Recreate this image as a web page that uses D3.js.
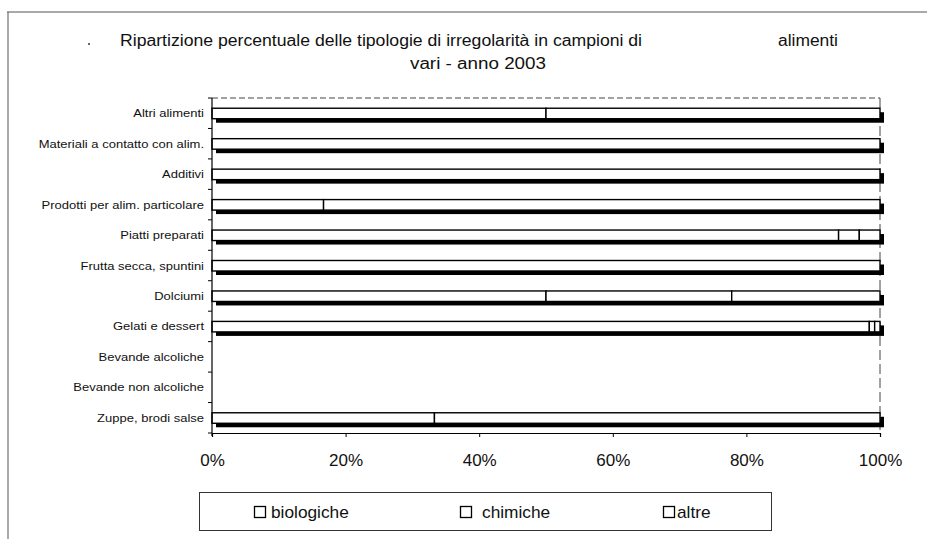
<!DOCTYPE html>
<html>
<head>
<meta charset="utf-8">
<script src="https://cdn.jsdelivr.net/npm/d3@7"></script>
<style>
  html, body { margin: 0; padding: 0; background: #fff; }
  svg { display: block; }
  text { font-family: "Liberation Sans", Arial, sans-serif; fill: #111; }
</style>
</head>
<body>
<svg id="chart" width="927" height="539"></svg>
<script>
const categories = [
  "Altri alimenti",
  "Materiali a contatto con alim.",
  "Additivi",
  "Prodotti per alim. particolare",
  "Piatti preparati",
  "Frutta secca, spuntini",
  "Dolciumi",
  "Gelati e dessert",
  "Bevande alcoliche",
  "Bevande non alcoliche",
  "Zuppe, brodi salse"
];
const biologiche = [50, 0, 0, 16.7, 93.8, 0, 50, 98.4, 0, 0, 33.3];
const chimiche   = [50, 100, 100, 83.3, 3.1, 100, 27.8, 0.8, 0, 0, 66.7];
const altre      = [0, 0, 0, 0, 3.1, 0, 22.2, 0.8, 0, 0, 0];
const seriesNames = ["biologiche", "chimiche", "altre"];
const xTicks = [0, 20, 40, 60, 80, 100];
const titleLine1a = "Ripartizione percentuale delle tipologie di irregolarità in campioni di";
const titleLine1b = "alimenti";
const titleLine2 = "vari - anno 2003";

(function () {
const svg = d3.select("#chart");
const pL = 212, pR = 880, pT = 98, pB = 433;

// outer frame (scanned page border)
svg.append("line").attr("x1", 7).attr("x2", 927).attr("y1", 12).attr("y2", 12)
  .attr("stroke", "#555").attr("stroke-width", 1);
svg.append("line").attr("x1", 8).attr("x2", 8).attr("y1", 12).attr("y2", 539)
  .attr("stroke", "#555").attr("stroke-width", 1);
svg.append("circle").attr("cx", 89).attr("cy", 44).attr("r", 1).attr("fill", "#333");

// title
svg.append("text").attr("x", 120).attr("y", 46).attr("font-size", 16)
  .attr("textLength", 522).attr("lengthAdjust", "spacingAndGlyphs").text(titleLine1a);
svg.append("text").attr("x", 778).attr("y", 46).attr("font-size", 16)
  .attr("textLength", 60).attr("lengthAdjust", "spacingAndGlyphs").text(titleLine1b);
svg.append("text").attr("x", 410).attr("y", 69).attr("font-size", 16)
  .attr("textLength", 136).attr("lengthAdjust", "spacingAndGlyphs").text(titleLine2);

const x = d3.scaleLinear().domain([0, 100]).range([pL, pR]);
const y = d3.scaleBand().domain(categories).range([pT, pB]).padding(0);

// plot top and right borders (faint dashed)
svg.append("line").attr("x1", pL).attr("x2", pR).attr("y1", pT).attr("y2", pT)
  .attr("stroke", "#444").attr("stroke-width", 1).attr("stroke-dasharray", "6,3");
svg.append("line").attr("x1", pR).attr("x2", pR).attr("y1", pT).attr("y2", pB)
  .attr("stroke", "#444").attr("stroke-width", 1).attr("stroke-dasharray", "10,4");

// data table
const rows = categories.map((c, i) => ({
  cat: c, biologiche: biologiche[i], chimiche: chimiche[i], altre: altre[i]
}));
const stacked = d3.stack().keys(seriesNames)(rows);

const barH = 10.5;
const sdx = 4, sdy = 4;

const g = svg.append("g");
// shadows
rows.forEach(r => {
  const total = r.biologiche + r.chimiche + r.altre;
  if (total <= 0) return;
  const cy = y(r.cat) + y.bandwidth() / 2;
  g.append("rect")
    .attr("x", x(0) + sdx).attr("y", cy - 5 + sdy)
    .attr("width", x(total) - x(0)).attr("height", barH)
    .attr("fill", "#000");
});

// bar segments
stacked.forEach(s => {
  g.selectAll(null).data(s.filter(d => d[1] - d[0] > 0)).enter().append("rect")
    .attr("x", d => x(d[0]))
    .attr("y", d => y(d.data.cat) + y.bandwidth() / 2 - 5)
    .attr("width", d => x(d[1]) - x(d[0]))
    .attr("height", barH)
    .attr("fill", "#fff").attr("stroke", "#000").attr("stroke-width", 1.4);
});

// y axis line and ticks at band boundaries
svg.append("line").attr("x1", pL).attr("x2", pL).attr("y1", pT).attr("y2", pB + 3)
  .attr("stroke", "#000").attr("stroke-width", 1.2);
const bounds = categories.map(c => y(c)).concat([pB]);
svg.selectAll(null).data(bounds).enter().append("line")
  .attr("x1", pL - 4).attr("x2", pL).attr("y1", d => d).attr("y2", d => d)
  .attr("stroke", "#000").attr("stroke-width", 1);

// category labels
svg.selectAll(null).data(categories).enter().append("text")
  .attr("transform", d => `translate(204,${y(d) + y.bandwidth() / 2 + 4}) scale(1.13,1)`)
  .attr("text-anchor", "end").attr("font-size", 11.5)
  .text(d => d);

// x axis
const xAxis = d3.axisBottom(x).tickValues(xTicks).tickFormat(d => d + "%")
  .tickSize(4).tickPadding(17);
const ax = svg.append("g").attr("transform", `translate(0,${pB})`).call(xAxis);
ax.select(".domain").attr("stroke", "#000").attr("stroke-width", 1.2);
ax.selectAll(".tick line").attr("stroke", "#000");
ax.selectAll(".tick text").attr("font-size", 17)
  .attr("font-family", "'Liberation Sans', Arial, sans-serif").attr("fill", "#111");

// legend
svg.append("rect").attr("x", 199.5).attr("y", 492.5).attr("width", 572).attr("height", 38)
  .attr("fill", "#fff").attr("stroke", "#333").attr("stroke-width", 1);
const legendX = [254, 460, 663];
const legendTextX = [271, 482, 677];
seriesNames.forEach((n, i) => {
  svg.append("rect").attr("x", legendX[i] + 0.5).attr("y", 506.5).attr("width", 11).attr("height", 11)
    .attr("fill", "#fff").attr("stroke", "#000").attr("stroke-width", 1.3);
  svg.append("text")
    .attr("transform", `translate(${legendTextX[i]},518) scale(1.08,1)`)
    .attr("font-size", 16).text(n);
});
})();
</script>
</body>
</html>
